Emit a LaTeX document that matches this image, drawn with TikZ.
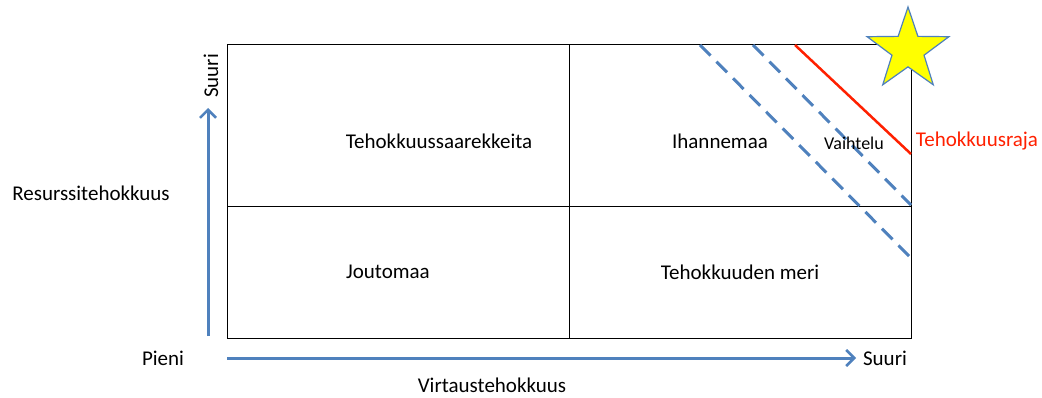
\documentclass[tikz,border=0pt]{standalone}
\usepackage{fontspec}
\setmainfont{Carlito}
\usetikzlibrary{arrows.meta,shapes.geometric}
\definecolor{axisblue}{RGB}{79,129,189}
\definecolor{limitred}{RGB}{255,32,0}
\definecolor{staryellow}{RGB}{255,255,0}
\tikzset{
  grid/.style={draw=black, line width=1pt},
  axis/.style={draw=axisblue, line width=3pt, -{Straight Barb[length=8pt,width=16pt,line width=2.5pt]}},
  spread/.style={draw=axisblue, line width=3pt, dash pattern=on 15pt off 8.5pt},
  limit/.style={draw=limitred, line width=2.5pt},
  label/.style={font=\fontsize{21}{25}\selectfont, inner sep=0pt},
  small/.style={font=\fontsize{18}{21}\selectfont, inner sep=0pt},
}
\begin{document}
\begin{tikzpicture}[x=1pt,y=-1pt]
\useasboundingbox (0,0) rectangle (1042,398);
% corner coordinates of the quadrant chart
\coordinate (tl) at (227,45);
\coordinate (br) at (911,338);
\coordinate (tm) at (569,45);
\coordinate (bm) at (569,338);
\coordinate (ml) at (227,207);
\coordinate (mr) at (911,207);
\draw[grid] (tl) rectangle (br);
\draw[grid] (tm) -- (bm);
\draw[grid] (ml) -- (mr);
% variation band and efficiency frontier
\coordinate (d1a) at (700,45);  \coordinate (d1b) at (911,258);
\coordinate (d2a) at (753,45);  \coordinate (d2b) at (911,205);
\coordinate (ra) at (795,45);   \coordinate (rb) at (911,154);
\draw[spread] (d1a) -- (d1b);
\draw[spread] (d2a) -- (d2b);
\draw[limit] (ra) -- (rb);
% target star
\node[star, star points=5, star point ratio=2.55, minimum size=86pt, inner sep=0pt,
      fill=staryellow, draw=axisblue, line width=1.2pt] (goal) at (908,50) {};
% axes
\coordinate (ya) at (208,336);
\coordinate (yb) at (208,108);
\coordinate (xa) at (227,358);
\coordinate (xb) at (856,358);
\draw[axis] (ya) -- (yb);
\draw[axis] (xa) -- (xb);
% texts
\node[label, rotate=90] (ytop) at (211,76) {Suuri};
\node[label] (ylab) at (91,193) {Resurssitehokkuus};
\node[label] (xlow) at (163,358) {Pieni};
\node[label] (xtop) at (885,358) {Suuri};
\node[label] (xlab) at (492,385) {Virtaustehokkuus};
\node[label] (q1) at (439,141) {Tehokkuussaarekkeita};
\node[label] (q2) at (720,141) {Ihannemaa};
\node[small] (var) at (854,143) {Vaihtelu};
\node[label, text=limitred] (front) at (977,141) {Tehokkuusraja};
\node[label] (q3) at (388,272) {Joutomaa};
\node[label] (q4) at (740,272) {Tehokkuuden meri};
\end{tikzpicture}
\end{document}
